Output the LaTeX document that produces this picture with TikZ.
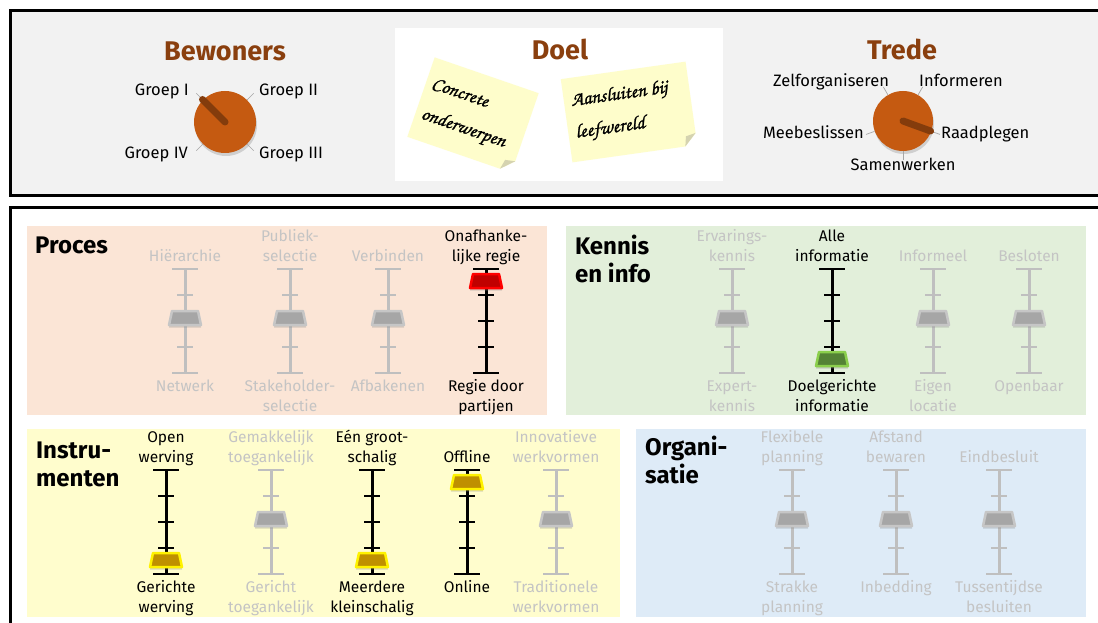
\documentclass[tikz,border=0pt]{standalone}
\usepackage{fontspec}
\setmainfont{Fira Sans}
\newfontfamily\hand[FakeBold=1.2]{texgyrechorus-mediumitalic.otf}
\usetikzlibrary{calc,shadows}

\definecolor{panelgray}{HTML}{F2F2F2}
\definecolor{titlebrown}{HTML}{8A3F0E}
\definecolor{dialorange}{HTML}{C55A11}
\definecolor{pointerbrown}{HTML}{843C0C}
\definecolor{procfill}{HTML}{FBE5D6}
\definecolor{kennfill}{HTML}{E2EFDA}
\definecolor{instrfill}{HTML}{FFFDCD}
\definecolor{orgfill}{HTML}{DEEBF7}
\definecolor{notefill}{HTML}{FEFDCB}
\definecolor{notefold}{HTML}{D5D3B0}
\definecolor{ghostc}{HTML}{BFBFBF}
\definecolor{ghosttxt}{HTML}{C4C4C4}
\definecolor{knobgray}{HTML}{A6A6A6}
\definecolor{knobrim}{HTML}{C6C6C6}
\definecolor{knobgreen}{HTML}{548235}
\definecolor{rimgreen}{HTML}{8BCF4C}
\definecolor{knobgold}{HTML}{BF9000}
\definecolor{knobred}{HTML}{C00000}

% one slider: name, x, top y, kind (ghost/live), knob style, knob offset, upper text, lower text
\newcommand\mkslider[8]{%
  \coordinate (#1t) at (#2,#3);
  \coordinate (#1b) at (#2,#3+104);
  \draw[#4 line] (#1t) -- (#1b);
  \draw[#4 cap] ($(#1t)+(-13,0)$) -- ($(#1t)+(13,0)$);
  \draw[#4 cap] ($(#1b)+(-13,0)$) -- ($(#1b)+(13,0)$);
  \foreach \k in {26,52,78}{\draw[#4 cap] ($(#1t)+(-8,\k)$) -- ($(#1t)+(8,\k)$);}
  \coordinate (#1k) at ($(#1t)+(0,#6)$);
  \filldraw[knob,#5] ($(#1k)+(-13,-7)$) -- ($(#1k)+(13,-7)$) -- ($(#1k)+(16,7)$) -- ($(#1k)+(-16,7)$) -- cycle;
  \node[toplab,#4 text] (#1u) at ($(#1t)+(0,-1)$) {#7\strut};
  \node[botlab,#4 text] (#1d) at ($(#1b)+(0,4)$) {\strut #8};
}

\begin{document}
\begin{tikzpicture}[x=1pt,y=-1pt,
  frame/.style={draw=black,line width=3pt},
  headtitle/.style={font=\bfseries\fontsize{27}{32}\selectfont,text=titlebrown,anchor=base,inner sep=0pt},
  sectitle/.style={font=\bfseries\fontsize{24}{28}\selectfont,align=left,anchor=north west,inner sep=0pt},
  diallab/.style={font=\fontsize{16.5}{20}\selectfont,inner sep=0pt},
  dial/.style={circle,fill=dialorange,minimum size=62pt,inner sep=0pt,
    drop shadow={shadow xshift=1pt,shadow yshift=-3pt,opacity=0.3}},
  dialtick/.style={draw=black!35,line width=0.7pt},
  pointer/.style={draw=pointerbrown,line width=7pt,line cap=round},
  ghost line/.style={draw=ghostc,line width=3pt},
  live line/.style={draw=black,line width=3pt},
  ghost cap/.style={draw=ghostc,line width=2pt},
  live cap/.style={draw=black,line width=2pt},
  ghost text/.style={text=ghosttxt},
  live text/.style={text=black},
  toplab/.style={font=\fontsize{15.5}{20}\selectfont,align=center,anchor=south,inner sep=0pt},
  botlab/.style={font=\fontsize{15.5}{20}\selectfont,align=center,anchor=north,inner sep=0pt},
  knob/.style={line width=2.5pt,line join=round,
    drop shadow={shadow xshift=0pt,shadow yshift=-2.5pt,opacity=0.3}},
  grayknob/.style={fill=knobgray,draw=knobrim},
  redknob/.style={fill=knobred,draw=red},
  greenknob/.style={fill=knobgreen,draw=rimgreen},
  goldknob/.style={fill=knobgold,draw=yellow},
  note/.style={fill=notefill},
  handtext/.style={font=\hand\fontsize{19.5}{32}\selectfont,align=left,anchor=west,inner sep=0pt,transform shape}
]
\useasboundingbox (0,0) rectangle (1098,623);
\clip (0,0) rectangle (1098,623);

% header band and lower frame
\draw[frame,fill=panelgray] (10,11) rectangle (1120,195);
\draw[frame,fill=white] (10,207) rectangle (1120,650);
\fill[white] (395,28) rectangle (723,181);

% header titles
\node[headtitle] (tbew) at (225,61) {Bewoners};
\node[headtitle] (tdoel) at (560,60) {Doel};
\node[headtitle] (ttrede) at (902,60) {Trede};

% residents dial
\node[dial] (bew) at (225,122) {};
\foreach \a in {45,135,225,315}{\draw[dialtick] (bew.\a) -- ($(bew.center)!1.3!(bew.\a)$);}
\draw[pointer] (bew.center) -- ($(bew.center)!1.02!(bew.135)$);
\node[diallab,anchor=base east] (g1) at (189,96) {Groep I};
\node[diallab,anchor=base west] (g2) at (259,96) {Groep II};
\node[diallab,anchor=base east] (g4) at (188,159) {Groep IV};
\node[diallab,anchor=base west] (g3) at (259,159) {Groep III};

% participation ladder dial
\node[dial,minimum size=60pt] (tre) at (903,121) {};
\foreach \a in {60,120,200,270,340}{\draw[dialtick] (tre.\a) -- ($(tre.center)!1.3!(tre.\a)$);}
\draw[pointer] (tre.center) -- ($(tre.center)!0.97!(tre.340)$);
\node[diallab,anchor=base] (s1) at (831,87) {Zelforganiseren};
\node[diallab,anchor=base] (s2) at (961,87) {Informeren};
\node[diallab,anchor=base east] (s3) at (864,139) {Meebeslissen};
\node[diallab,anchor=base west] (s4) at (941,139) {Raadplegen};
\node[diallab,anchor=base] (s5) at (903,171) {Samenwerken};

% sticky notes
\begin{scope}[shift={(473,115)},rotate=-19]
  \fill[note] (-55,-42) -- (55,-42) -- (55,30) -- (43,42) -- (-55,42) -- cycle;
  \fill[notefold] (55,30) -- (43,42) -- (45,32) -- cycle;
  \node[handtext] (n1) at (-49,1) {Concrete\\onderwerpen};
\end{scope}
\begin{scope}[shift={(629,112)},rotate=8]
  \fill[note] (-63,-42) -- (63,-42) -- (63,30) -- (51,42) -- (-63,42) -- cycle;
  \fill[notefold] (63,30) -- (51,42) -- (53,32) -- cycle;
  \node[handtext] (n2) at (-56,-2) {Aansluiten bij\\leefwereld};
\end{scope}

% coloured panels
\fill[procfill] (27,226) rectangle (547,415);
\fill[kennfill] (566,226) rectangle (1086,415);
\fill[instrfill] (27,429) rectangle (620,617);
\fill[orgfill] (636,429) rectangle (1086,617);

\node[sectitle] (hproc) at (35,233.5) {\strut Proces};
\node[sectitle] (hkenn) at (575,234.5) {\strut Kennis\\en info};
\node[sectitle] (hinstr) at (36,438.5) {\strut Instru-\\menten};
\node[sectitle] (horg) at (645,435.5) {\strut Organi-\\satie};

% process sliders
\mkslider{p1}{185}{269}{ghost}{grayknob}{49}{Hiërarchie}{Netwerk}
\mkslider{p2}{290}{269}{ghost}{grayknob}{49}{Publiek-\\selectie}{Stakeholder-\\selectie}
\mkslider{p3}{388}{269}{ghost}{grayknob}{49}{Verbinden}{Afbakenen}
\mkslider{p4}{486}{269}{live}{redknob}{12}{Onafhanke-\\lijke regie}{Regie door\\partijen}

% knowledge sliders
\mkslider{k1}{732}{269}{ghost}{grayknob}{49}{Ervarings-\\kennis}{Expert-\\kennis}
\mkslider{k2}{832}{269}{live}{greenknob}{90}{Alle\\informatie}{Doelgerichte\\informatie}
\mkslider{k3}{933}{269}{ghost}{grayknob}{49}{Informeel}{Eigen\\locatie}
\mkslider{k4}{1029}{269}{ghost}{grayknob}{49}{Besloten}{Openbaar}

% instrument sliders
\mkslider{i1}{166}{470}{live}{goldknob}{90}{Open\\werving}{Gerichte\\werving}
\mkslider{i2}{271}{470}{ghost}{grayknob}{49}{Gemakkelijk\\toegankelijk}{Gericht\\toegankelijk}
\mkslider{i3}{372}{470}{live}{goldknob}{90}{Eén groot-\\schalig}{Meerdere\\kleinschalig}
\mkslider{i4}{467}{470}{live}{goldknob}{12}{Offline}{Online}
\mkslider{i5}{556}{470}{ghost}{grayknob}{49}{Innovatieve\\werkvormen}{Traditionele\\werkvormen}

% organisation sliders
\mkslider{o1}{792}{470}{ghost}{grayknob}{49}{Flexibele\\planning}{Strakke\\planning}
\mkslider{o2}{896}{470}{ghost}{grayknob}{49}{Afstand\\bewaren}{Inbedding}
\mkslider{o3}{999}{470}{ghost}{grayknob}{49}{Eindbesluit}{Tussentijdse\\besluiten}
\end{tikzpicture}
\end{document}
